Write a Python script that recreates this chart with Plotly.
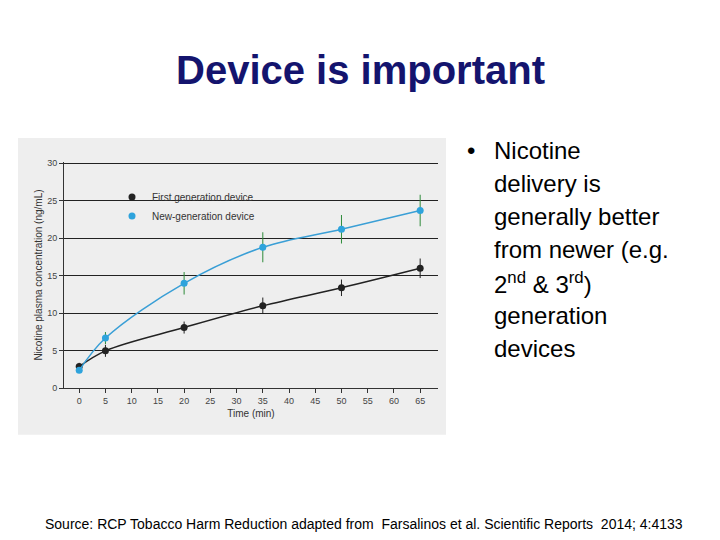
import plotly.graph_objects as go

time_min = [0, 5, 20, 35, 50, 65]
first_gen = [2.9, 5.0, 8.1, 11.0, 13.4, 16.0]
first_err = [0.5, 0.8, 0.8, 1.1, 1.1, 1.3]
new_gen = [2.4, 6.7, 14.0, 18.8, 21.2, 23.7]
new_err = [0.3, 0.8, 1.5, 2.0, 1.9, 2.1]
x_ticks = list(range(0, 70, 5))

DX, DY = -8, -6  # compensate page offset


def px(x):
    return (x + DX) / 720


def py(y):
    return 1 - (y + DY) / 540


fig = go.Figure()
fig.add_trace(go.Scatter(
    x=time_min, y=first_gen, showlegend=False,
    mode="lines+markers", line=dict(color="#222222", width=1.5, shape="spline"),
    marker=dict(size=7, color="#222222"),
    error_y=dict(type="data", array=first_err, color="#222222", thickness=1, width=0)))
fig.add_trace(go.Scatter(
    x=time_min, y=new_gen, showlegend=False,
    mode="lines+markers", line=dict(color="#3a9fd6", width=1.5, shape="spline"),
    marker=dict(size=7, color="#2ea3dc"),
    error_y=dict(type="data", array=new_err, color="#2e8b3a", thickness=1, width=0)))
# legend entries (markers only)
fig.add_trace(go.Scatter(x=[None], y=[None], mode="markers", name="First generation device",
                         marker=dict(size=7, color="#222222")))
fig.add_trace(go.Scatter(x=[None], y=[None], mode="markers", name="New-generation device",
                         marker=dict(size=7, color="#2ea3dc")))

fig.update_layout(
    width=720, height=540, margin=dict(l=0, r=0, t=0, b=0),
    paper_bgcolor="white", plot_bgcolor="#eeeeee",
    font=dict(family="Liberation Sans, Arial", color="#333"),
    showlegend=True,
    legend=dict(x=px(112), y=py(180), xanchor="left", yanchor="top", bgcolor="rgba(0,0,0,0)",
                font=dict(size=10, color="#333"), tracegroupgap=0),
    xaxis=dict(domain=[px(64), px(438)], range=[-2.9, 68.4], tickvals=x_ticks,
               showgrid=False, zeroline=False, showline=True, linecolor="#333",
               ticks="outside", ticklen=4, tickcolor="#333", tickfont=dict(size=9, color="#444"),
               title=dict(text="Time (min)", font=dict(size=10, color="#333"), standoff=4)),
    yaxis=dict(domain=[py(389), py(159)], range=[0, 30.2], tickvals=[0, 5, 10, 15, 20, 25, 30],
               showgrid=True, gridcolor="#222", gridwidth=1, zeroline=False,
               showline=True, linecolor="#333", ticks="outside", ticklen=4, tickcolor="#333",
               tickfont=dict(size=9, color="#444"),
               title=dict(text="Nicotine plasma concentration (ng/mL)", font=dict(size=10, color="#333"), standoff=2)),
)

# grey panel behind the chart
fig.add_shape(type="rect", xref="paper", yref="paper", x0=px(18), x1=px(446),
              y0=py(436), y1=py(135), fillcolor="#eeeeee", line=dict(width=0), layer="below")

fig.add_annotation(text="<b>Device is important</b>", xref="paper", yref="paper",
                   x=px(360), y=py(66), yanchor="middle", showarrow=False,
                   font=dict(size=40, color="#14146e", family="Liberation Sans, Arial"))

bullet_lines = ["Nicotine", "delivery is", "generally better", "from newer (e.g.",
                "2<sup>nd</sup> & 3<sup>rd</sup>)", "generation", "devices"]
for i, line in enumerate(bullet_lines):
    fig.add_annotation(text=line, xref="paper", yref="paper", x=px(492), y=py(148 + 33.5 * i),
                       xanchor="left", yanchor="middle", showarrow=False,
                       font=dict(size=24, color="black"))
fig.add_annotation(text="•", xref="paper", yref="paper", x=px(465), y=py(148),
                   xanchor="left", yanchor="middle", showarrow=False, font=dict(size=24, color="black"))

fig.add_annotation(text="Source: RCP Tobacco Harm Reduction adapted from  Farsalinos et al. Scientific Reports  2014; 4:4133",
                   xref="paper", yref="paper", x=px(43), y=py(527), xanchor="left", yanchor="middle",
                   showarrow=False, font=dict(size=14, color="black"))

fig.write_html("out.html")
